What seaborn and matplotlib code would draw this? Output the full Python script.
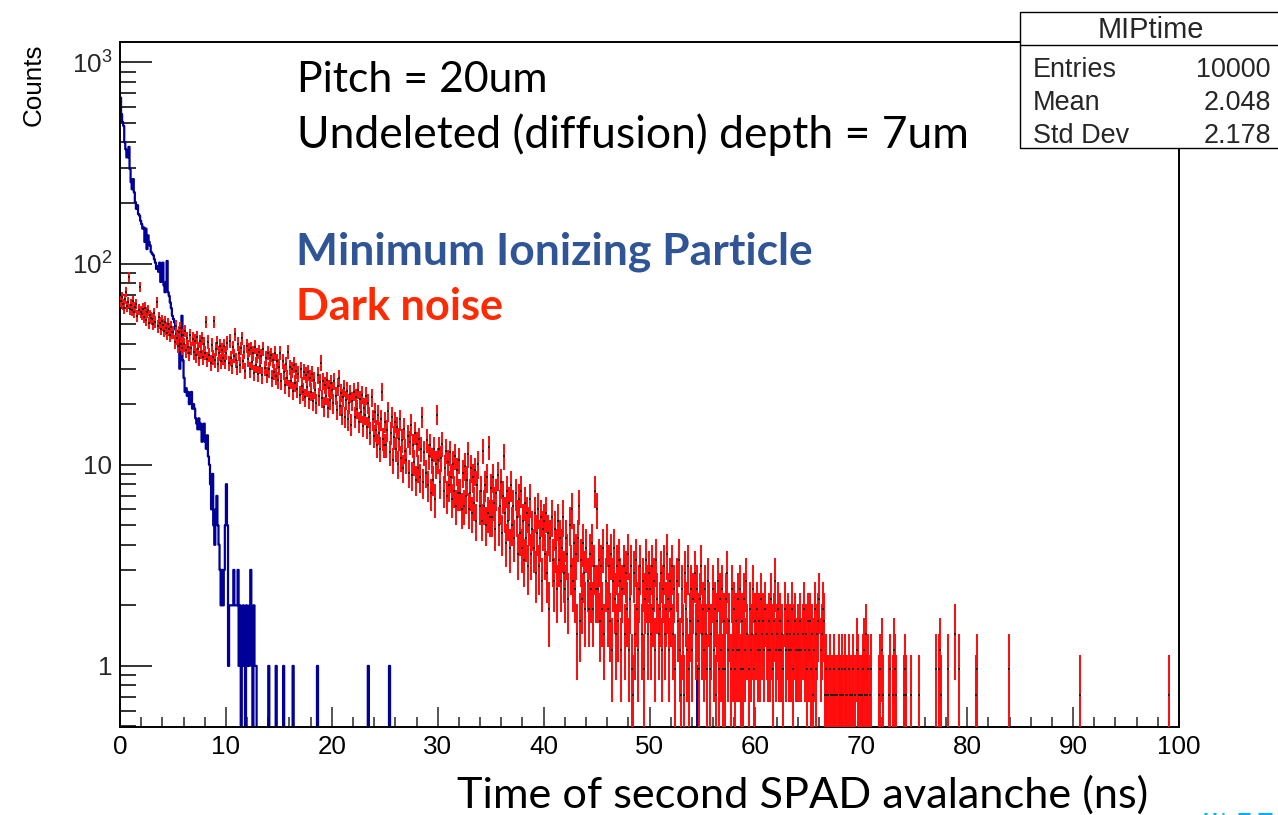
import numpy as np
import pandas as pd
import seaborn as sns
import matplotlib
matplotlib.use("Agg")
import matplotlib.pyplot as plt
from matplotlib.ticker import MultipleLocator, LogLocator, NullFormatter
from matplotlib.patches import Rectangle
from matplotlib.lines import Line2D

# ---------------- data ----------------
bin_width = 0.1          # ns per bin
n_bins = 1000            # 0 .. 100 ns

# MIP histogram (MIPtime): counts per 0.1 ns bin, bins 0..129
mip_counts = [
    668, 552, 504, 483, 400, 370, 337, 337, 380, 295,
    254, 234, 263, 226, 202, 187, 195, 176, 173, 163,
    157, 149, 151, 128, 149, 118, 138, 128, 123, 114,
    112, 110, 105, 101, 94, 97, 91, 101, 81, 88,
    101, 78, 72, 81, 103, 72, 69, 64, 60, 55,
    53, 51, 47, 44, 46, 38, 30, 42, 55, 33,
    27, 23, 24, 22, 23, 20, 21, 23, 19, 20,
    19, 17, 16, 15, 17, 15, 16, 13, 14, 16,
    13, 12, 14, 11, 10, 8, 6, 9, 5, 4,
    6, 7, 5, 4, 3, 2, 3, 2, 3, 5,
    8, 5, 1, 2, 2, 2, 2, 3, 2, 2,
    2, 3, 1, 2, 0, 1, 2, 1, 0, 2,
    1, 1, 2, 3, 1, 0, 2, 1, 1, 0,
]
# isolated single-count MIP bins beyond 13 ns (bin index)
mip_single_bins = [140, 147, 154, 163, 186, 234, 254, 545]

# Dark noise: raw entries per 0.1 ns bin (drawn scaled by dark_scale)
dark_scale = 0.24
dark_00 = [270, 285, 262, 250, 278, 301, 255, 268, 358, 247,
           260, 244, 271, 238, 252, 263, 229, 246, 318, 240,
           233, 248, 226, 251, 219, 238, 245, 212, 230, 224,
           221, 209, 236, 214, 268, 203, 225, 211, 198, 217,
           206, 193, 214, 199, 188, 209, 196, 183, 202, 190]
dark_05 = [190, 170, 203, 178, 162, 190, 200, 166, 158, 184,
           165, 193, 154, 178, 161, 149, 183, 158, 176, 151,
           172, 146, 180, 157, 141, 171, 152, 177, 143, 166,
           150, 214, 140, 170, 147, 134, 164, 143, 215, 138,
           157, 168, 132, 149, 162, 136, 155, 142, 163, 137]
dark_10 = [150, 168, 133, 172, 141, 129, 160, 145, 185, 138,
           127, 166, 149, 131, 158, 178, 137, 152, 122, 163,
           140, 155, 124, 158, 135, 149, 119, 161, 131, 146,
           118, 152, 129, 144, 116, 157, 126, 141, 117, 150,
           124, 141, 147, 112, 138, 121, 149, 115, 136, 110]
dark_15 = [128, 150, 108, 136, 121, 104, 132, 113, 152, 100,
           127, 109, 124, 97, 131, 106, 122, 99, 118, 93,
           124, 103, 96, 121, 90, 117, 101, 120, 88, 112,
           96, 118, 86, 110, 98, 84, 116, 91, 107, 134,
           89, 108, 81, 104, 92, 110, 80, 100, 87, 106]
dark_20 = [98, 84, 108, 92, 78, 102, 112, 82, 95, 74,
           90, 100, 72, 87, 97, 70, 84, 94, 66, 86,
           96, 72, 90, 79, 98, 68, 88, 76, 93, 65,
           80, 74, 92, 64, 84, 72, 60, 90, 70, 58,
           76, 62, 52, 74, 60, 50, 70, 96, 56, 52]
dark_25 = [68, 52, 62, 77, 48, 60, 72, 44, 57, 68,
           50, 64, 42, 56, 70, 45, 55, 40, 63, 49,
           44, 58, 38, 54, 66, 37, 52, 43, 60, 35,
           53, 40, 56, 36, 50, 72, 34, 48, 38, 55,
           33, 46, 52, 30, 44, 35, 50, 28, 42, 74]
dark_30 = [44, 50, 34, 45, 53, 31, 40, 49, 29, 43,
           33, 48, 36, 28, 42, 31, 46, 26, 39, 30,
           44, 30, 25, 38, 26, 41, 29, 35, 47, 25,
           30, 40, 24, 36, 27, 39, 22, 33, 42, 26,
           31, 22, 49, 26, 33, 21, 36, 24, 51, 23]
dark_35 = [32, 23, 36, 27, 20, 30, 37, 21, 26, 34,
           19, 29, 46, 24, 17, 31, 22, 27, 16, 33,
           21, 26, 18, 30, 23, 15, 28, 19, 31, 16,
           22, 14, 27, 18, 24, 13, 21, 28, 15, 20,
           16, 24, 12, 19, 25, 13, 18, 23, 11, 20]
dark_40 = [22, 15, 24, 12, 19, 8, 18, 23, 14, 11,
           20, 16, 10, 22, 14, 18, 11, 16, 23, 12,
           10, 18, 15, 9, 21, 13, 25, 11, 17, 10,
           15, 6, 18, 26, 7, 14, 9, 17, 12, 8,
           16, 11, 8, 15, 10, 17, 8, 13, 31, 10]
dark_45 = [25, 10, 14, 7, 13, 8, 16, 6, 11, 17,
           8, 13, 7, 15, 5, 11, 16, 9, 6, 13,
           7, 14, 11, 5, 10, 13, 6, 12, 8, 15,
           5, 9, 13, 4, 3, 12, 6, 14, 8, 5,
           10, 13, 6, 11, 4, 9, 14, 10, 6, 12]
dark_50 = [10, 6, 13, 8, 11, 5, 14, 9, 6, 8,
           12, 5, 10, 13, 6, 8, 15, 9, 5, 11,
           8, 13, 6, 10, 4, 11, 7, 14, 5, 3,
           10, 6, 3, 12, 8, 5, 13, 4, 7, 10,
           5, 9, 12, 6, 10, 7, 4, 9, 13, 6]
dark_55 = [8, 5, 10, 6, 4, 11, 8, 4, 6, 10,
           5, 8, 3, 7, 11, 4, 9, 5, 10, 4,
           7, 4, 9, 12, 5, 7, 4, 10, 5, 8,
           4, 7, 5, 9, 5, 10, 4, 7, 4, 9,
           5, 11, 6, 4, 8, 5, 6, 10, 4, 7]
dark_60 = [6, 8, 5, 7, 5, 9, 6, 7, 5, 8,
           6, 5, 7, 5, 9, 6, 4, 7, 11, 5,
           6, 8, 5, 7, 5, 6, 4, 8, 5, 6,
           7, 5, 6, 5, 8, 4, 6, 7, 5, 5,
           6, 5, 7, 5, 6, 8, 5, 6, 4, 7]
dark_65 = [5, 7, 4, 6, 3, 5, 8, 4, 6, 7,
           9, 5, 6, 8, 7, 3, 4, 3, 3, 1,
           4, 3, 1, 3, 4, 3, 1, 3, 4, 3,
           3, 4, 3, 1, 4, 3, 3, 1, 4, 3,
           0, 3, 4, 1, 3, 5, 4, 3, 1, 3]
dark_70 = [3, 4, 5, 3, 6, 3, 4, 1, 3, 4,
           1, 0, 0, 1, 0, 1, 3, 4, 1, 5,
           3, 1, 0, 1, 1, 0, 3, 4, 1, 3,
           5, 4, 3, 1, 0, 1, 1, 0, 1, 0,
           3, 4, 3, 1, 0, 1, 3, 1, 0, 1]
dark_75 = [1, 0, 1, 0, 3, 1, 0, 0, 1, 0,
           0, 0, 1, 0, 0, 1, 0, 1, 0, 1,
           4, 0, 1, 4, 5, 3, 0, 1, 0, 0,
           1, 4, 0, 1, 0, 1, 0, 0, 6, 1,
           0, 0, 4, 0, 1, 0, 0, 1, 0, 0]
dark_80 = [0, 1, 0, 0, 1, 0, 0, 0, 3, 4,
           0, 0, 0, 1, 0, 0, 0, 1, 0, 0,
           0, 0, 1, 0, 0, 0, 0, 0, 1, 0,
           0, 0, 0, 1, 0, 0, 0, 0, 0, 4,
           0, 0, 0, 0, 0, 1, 0, 0, 0, 0]
dark_85 = [0, 0, 0, 1, 0, 0, 0, 0, 0, 0,
           0, 0, 0, 0, 0, 1, 0, 0, 0, 0,
           0, 0, 0, 0, 0, 0, 0, 0, 0, 0,
           0, 1, 0, 0, 0, 0, 0, 0, 0, 0,
           0, 0, 0, 0, 0, 0, 0, 0, 1, 0]
dark_90 = [0, 0, 0, 0, 0, 0, 3, 0, 0, 0,
           0, 0, 0, 1, 0, 0, 0, 0, 0, 0,
           0, 0, 0, 0, 0, 0, 0, 0, 0, 0,
           0, 0, 0, 0, 0, 0, 1, 0, 0, 0,
           0, 0, 0, 0, 0, 0, 0, 0, 0, 0]
dark_95 = [0, 0, 0, 0, 0, 0, 0, 0, 0, 0,
           0, 0, 0, 0, 0, 0, 0, 0, 0, 0,
           0, 0, 0, 0, 0, 0, 0, 0, 0, 0,
           0, 0, 0, 0, 0, 0, 0, 0, 0, 0,
           3, 0, 0, 0, 0, 0, 0, 0, 0, 0]

stats_title = "MIPtime"
stats_labels = ["Entries", "Mean", "Std Dev"]
stats_values = ["10000", "2.048", "2.178"]

x_ticks = [0, 10, 20, 30, 40, 50, 60, 70, 80, 90, 100]
y_ticks = [1, 10, 100, 1000]
y_tick_labels = ["1", "10", "$10^{2}$", "$10^{3}$"]

text_line1 = "Pitch = 20um"
text_line2 = "Undeleted (diffusion) depth = 7um"
text_mip = "Minimum Ionizing Particle"
text_dark = "Dark noise"
x_title = "Time of second SPAD avalanche (ns)"
y_title = "Counts"

# ---------------- assemble ----------------
dark_rows = [dark_00, dark_05, dark_10, dark_15, dark_20, dark_25, dark_30,
             dark_35, dark_40, dark_45, dark_50, dark_55, dark_60, dark_65,
             dark_70, dark_75, dark_80, dark_85, dark_90, dark_95]
for r in dark_rows:
    assert len(r) == 50, len(r)
dark_counts = np.concatenate([np.array(r, dtype=float) for r in dark_rows])

edges = np.arange(n_bins + 1) * bin_width
centers = edges[:-1] + bin_width / 2

mip_full = np.zeros(n_bins)
mip_full[:len(mip_counts)] = mip_counts
for b in mip_single_bins:
    mip_full[b] = 1

mip_df = pd.DataFrame({"t": centers, "w": mip_full})

sel = dark_counts > 0
dark_df = pd.DataFrame({
    "t": centers[sel],
    "v": dark_counts[sel] * dark_scale,
    "e": np.sqrt(dark_counts[sel]) * dark_scale,
})

# ---------------- style / layout ----------------
W, H, DPI = 1278, 815, 100
PT = 72.0 / DPI
sns.set_theme(style="white")
plt.rcParams["font.family"] = ["Liberation Sans", "DejaVu Sans"]
plt.rcParams["mathtext.fontset"] = "custom"
plt.rcParams["mathtext.rm"] = "Liberation Sans"
plt.rcParams["mathtext.it"] = "Liberation Sans:italic"
plt.rcParams["mathtext.bf"] = "Liberation Sans:bold"

fig = plt.figure(figsize=(W / DPI, H / DPI), dpi=DPI)
fig.patch.set_facecolor("white")


def fx(px):
    return px / W


def fy(py):
    return 1 - py / H


L, R, T, B = 120, 1179, 42, 727
ax = fig.add_axes([fx(L), fy(B), (R - L) / W, (B - T) / H])
ax.set_facecolor("white")

# MIP histogram (step outline)
sns.histplot(data=mip_df, x="t", weights="w", binwidth=bin_width,
             binrange=(0, 100), element="step",
             fill=False, color="#000099", linewidth=1.6, ax=ax, zorder=2)

# dark noise with error bars (ROOT "E" style: red bars, dark markers)
lower = np.minimum(dark_df["e"].values, dark_df["v"].values * 0.999)
ax.errorbar(dark_df["t"], dark_df["v"], yerr=[lower, dark_df["e"].values],
            xerr=bin_width / 2, fmt="none", ecolor="#ff0a0a",
            elinewidth=1.4, capsize=0, alpha=1.0, zorder=3)
sns.scatterplot(data=dark_df, x="t", y="v", marker="s", s=1.6,
                color="#202020", linewidth=0, ax=ax, zorder=4)

ax.set_yscale("log")
ax.set_xlim(0, 100)
ax.set_ylim(0.497, 1262)
ax.set_xlabel("")
ax.set_ylabel("")

ax.set_xticks(x_ticks)
ax.set_xticklabels([str(v) for v in x_ticks])
ax.xaxis.set_minor_locator(MultipleLocator(2))
ax.set_yticks(y_ticks)
ax.set_yticklabels(y_tick_labels)
ax.yaxis.set_minor_locator(LogLocator(base=10, subs=np.arange(2, 10) * 1.0, numticks=30))
ax.yaxis.set_minor_formatter(NullFormatter())

ax.tick_params(axis="x", which="major", direction="in", length=20 * PT,
               width=1.4, color="#555555", labelsize=26 * PT, pad=8 * PT,
               bottom=True, top=False, labelcolor="black")
ax.tick_params(axis="x", which="minor", direction="in", length=10 * PT,
               width=1.4, color="#555555", bottom=True, top=False)
ax.tick_params(axis="y", which="major", direction="in", length=32 * PT,
               width=1.3, color="#222222", labelsize=26 * PT, pad=8 * PT,
               left=True, right=False)
ax.tick_params(axis="y", which="minor", direction="in", length=16 * PT,
               width=1.3, color="#222222", left=True, right=False)
for sp in ax.spines.values():
    sp.set_color("black")
    sp.set_linewidth(1.4)
    sp.set_visible(True)

# y-axis title (ROOT style, top aligned)
fig.text(fx(34), fy(85), y_title, rotation=90, ha="center", va="center",
         fontsize=26 * PT, color="black")

# ---------------- stats box ----------------
bx0, bx1, by0, by1, bsep = 1020, 1300, 12, 148, 45
fig.add_artist(Rectangle((fx(bx0), fy(by1)), (bx1 - bx0) / W, (by1 - by0) / H,
                         transform=fig.transFigure, facecolor="white",
                         edgecolor="black", linewidth=1.0, zorder=10))
fig.add_artist(Line2D([fx(bx0), fx(bx1)], [fy(bsep), fy(bsep)],
                      transform=fig.transFigure, color="black", linewidth=1.0,
                      zorder=11))
fig.text(fx(1151), fy(38), stats_title, ha="center", va="baseline",
         fontsize=29 * PT, zorder=12)
for i, (lab, val) in enumerate(zip(stats_labels, stats_values)):
    yb = 77 + i * 33
    fig.text(fx(1033), fy(yb), lab, ha="left", va="baseline",
             fontsize=27 * PT, zorder=12)
    fig.text(fx(1271), fy(yb), val, ha="right", va="baseline",
             fontsize=27 * PT, zorder=12)

# ---------------- slide annotations ----------------
renderer = fig.canvas.get_renderer()


def fitted_text(xl, xr, yb, s, **kw):
    t = fig.text(fx(xl), fy(yb), s, ha="left", va="baseline", **kw)
    w = t.get_window_extent(renderer).width
    t.set_fontsize(t.get_fontsize() * (xr - xl) / w)
    return t


slide_font = ["Lato", "DejaVu Sans"]
fitted_text(297, 548, 92, text_line1, family=slide_font, fontsize=34, color="black")
fitted_text(297, 970, 148, text_line2, family=slide_font, fontsize=34, color="black")
fitted_text(296, 813, 265, text_mip, family=slide_font, fontsize=34,
            fontweight="bold", color="#2F5597")
fitted_text(296, 503, 320, text_dark, family=slide_font, fontsize=34,
            fontweight="bold", color="#FF2A00")
fitted_text(457, 1150, 808, x_title, family=slide_font, fontsize=34, color="black")

# clipped tops of a cyan slide footer in the bottom-right corner
for xa, xb in [(1204, 1207), (1213, 1216), (1222, 1224), (1238, 1250), (1258, 1272)]:
    fig.add_artist(Line2D([fx(xa), fx(xb)], [fy(813.5), fy(813.5)],
                          transform=fig.transFigure, color="#00B0F0",
                          linewidth=2.2, solid_capstyle="butt"))

fig.savefig("out.png", dpi=DPI)
